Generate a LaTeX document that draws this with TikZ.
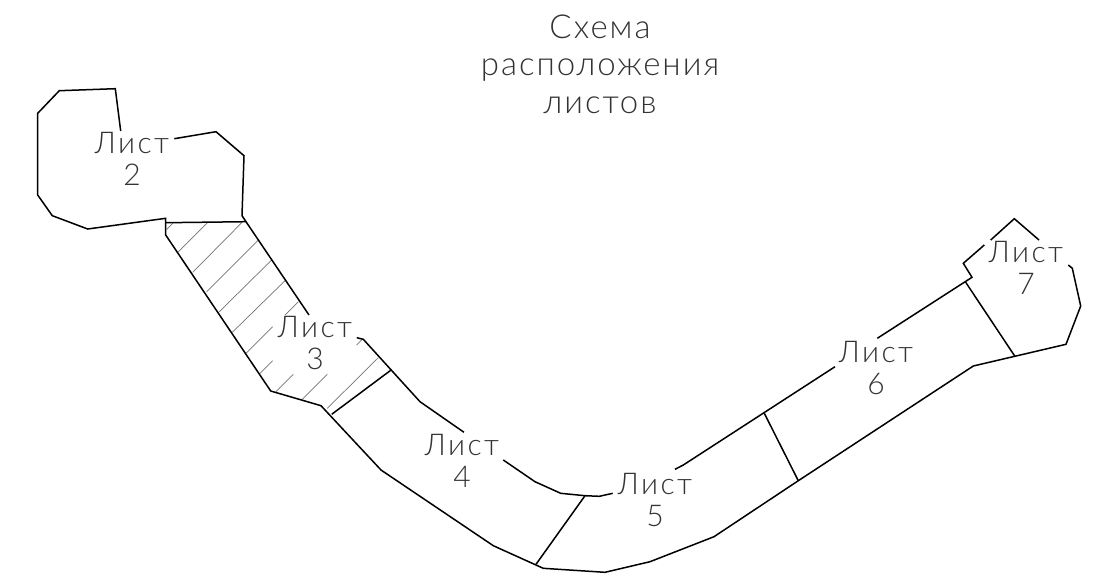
\documentclass[tikz,border=0pt]{standalone}
\usepackage{fontspec}
\setmainfont{Lato}[UprightFont=* Light]
\newfontfamily\titlefont{Lato}[UprightFont=* Light,LetterSpace=6]
\newfontfamily\sheetfont{Lato}[UprightFont=* Light,LetterSpace=8]
\tikzset{
  outline/.style={draw=black,line width=1.5pt,line join=miter},
  divider/.style={draw=black,line width=1.5pt},
  hatchline/.style={draw=black!55,line width=0.7pt},
  sheetlabel/.style={anchor=center,align=center,text=black!80,font=\fontsize{30}{31.5}\sheetfont,inner sep=0pt},
  titlelabel/.style={anchor=center,align=center,text=black!80,font=\fontsize{33}{37.5}\titlefont,inner sep=0pt}
}
\begin{document}
\begin{tikzpicture}[x=1pt,y=-1pt]
\useasboundingbox (0,0) rectangle (1111,584);
% hatching of sheet 3
\foreach \a/\b/\c/\d in {
 166.7/229.3/172.7/223.3, 178.3/251.7/207.3/222.7, 192.7/272.3/241.7/222.7,
 206.7/291.7/258.3/240, 219.3/311.7/271.7/260, 232.3/332.3/285/280.7,
 246/353.3/272.7/326.7, 285/315/298.3/301.7, 260/373.3/272.7/360.7,
 276/391.7/293.3/374.3, 301.7/400/327.3/374.3, 327.3/408.3/378.3/357.7,
 356.7/345/361.7/340}
  \draw[hatchline] (\a,\b) -- (\c,\d);
% outer contour, lower side
\draw[outline] (120.7,131) -- (115.3,88.7) -- (59.3,90.7) -- (37.7,113.3) -- (37.7,195)
  -- (52.3,215.7) -- (87.7,229) -- (165.7,218.3) -- (165.7,235) -- (270.7,391)
  -- (321,405.7) -- (381,470) -- (493.3,545.7) -- (543.3,568.3) -- (605,572.3)
  -- (650,561.7) -- (714,536.7) -- (798.3,480.7) -- (973.3,366) -- (1066,344.3)
  -- (1080.7,306) -- (1072.3,268.3) -- (1068.3,265);
% outer contour, upper side
\draw[outline] (174.3,138.7) -- (216,131.7) -- (244,155.7) -- (242,215.7) -- (246,221.7) -- (309,315);
\draw[outline] (356.7,337.7) -- (363.3,339.3) -- (420,401.7) -- (464,432.3);
\draw[outline] (503.3,460) -- (535,481.7) -- (560.7,493.3) -- (585,495.7) -- (599.3,496.3) -- (612.7,493.3);
\draw[outline] (675,469.3) -- (683.3,465) -- (835,366.7);
\draw[outline] (877.3,338.3) -- (972,277.3) -- (963.3,263.3) -- (984.3,245);
\draw[outline] (990.7,240) -- (1014.3,218.7) -- (1039,240);
% dividers between sheets
\draw[divider] (165.7,222.7) -- (246,221.7);
\draw[divider] (390.7,370.3) -- (331.7,414.3);
\draw[divider] (585,495.7) -- (536,564.3);
\draw[divider] (764.3,413.3) -- (798.3,480.7);
\draw[divider] (965.3,281.7) -- (1014.7,356);
% labels
\node[titlelabel] (title) at (600,64) {Схема\\расположения\\листов};
\node[sheetlabel] (s2) at (132,159) {Лист\\2};
\node[sheetlabel] (s3) at (315,343) {Лист\\3};
\node[sheetlabel] (s4) at (462,461) {Лист\\4};
\node[sheetlabel] (s5) at (655,500) {Лист\\5};
\node[sheetlabel] (s6) at (876,368) {Лист\\6};
\node[sheetlabel] (s7) at (1026,268) {Лист\\7};
\end{tikzpicture}
\end{document}
